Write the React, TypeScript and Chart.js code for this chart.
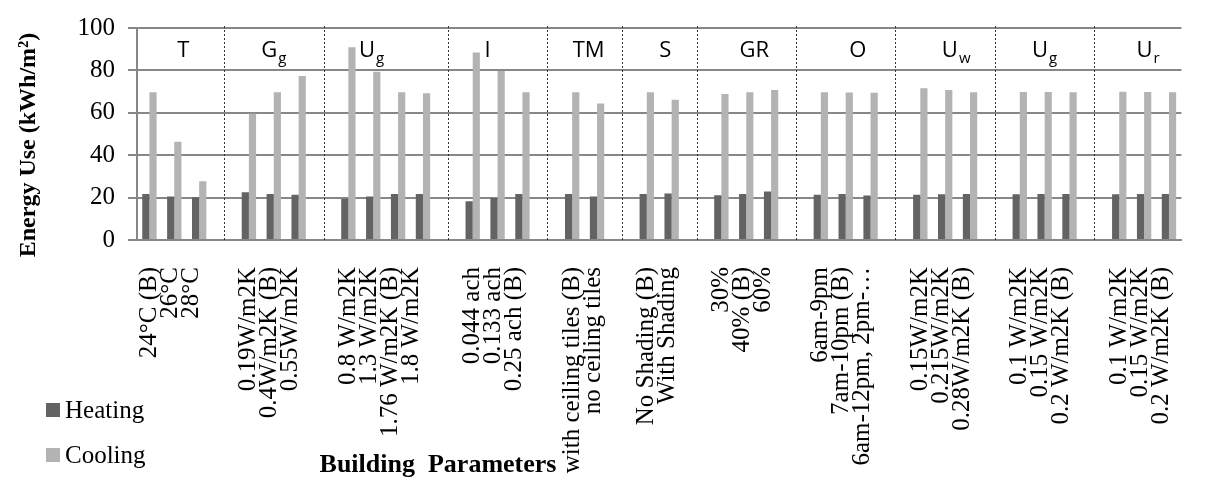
import React, { useEffect, useRef } from 'react';
import { Chart, registerables } from 'chart.js';

Chart.register(...registerables);

// ---- data ----
const groupMain = ['T', 'G', 'U', 'I', 'TM', 'S', 'GR', 'O', 'U', 'U', 'U'];
const groupSub = ['', 'g', 'g', '', '', '', '', '', 'w', 'g', 'r'];
const groupOptions: string[][] = [
  ['24°C (B)', '26°C', '28°C'],
  ['0.19W/m2K', '0.4W/m2K (B)', '0.55W/m2K'],
  ['0.8 W/m2K', '1.3 W/m2K', '1.76 W/m2K (B)', '1.8 W/m2K'],
  ['0.044 ach', '0.133 ach', '0.25 ach (B)'],
  ['with ceiling tiles (B)', 'no ceiling tiles'],
  ['No Shading (B)', 'With Shading'],
  ['30%', '40% (B)', '60%'],
  ['6am-9pm', '7am-10pm (B)', '6am-12pm, 2pm-…'],
  ['0.15W/m2K', '0.215W/m2K', '0.28W/m2K (B)'],
  ['0.1 W/m2K', '0.15 W/m2K', '0.2 W/m2K (B)'],
  ['0.1 W/m2K', '0.15 W/m2K', '0.2 W/m2K (B)'],
];
const heatingValues: number[][] = [
  [21.7, 20.5, 20.2],
  [22.5, 21.7, 21.4],
  [19.5, 20.5, 21.7, 21.7],
  [18.3, 19.8, 21.7],
  [21.7, 20.5],
  [21.7, 21.9],
  [21.1, 21.7, 22.9],
  [21.3, 21.7, 21.0],
  [21.3, 21.6, 21.7],
  [21.6, 21.7, 21.7],
  [21.6, 21.7, 21.7],
];
const coolingValues: number[][] = [
  [69.7, 46.4, 27.7],
  [59.6, 69.7, 77.3],
  [90.9, 79.4, 69.7, 69.2],
  [88.4, 79.7, 69.7],
  [69.7, 64.4],
  [69.7, 66.2],
  [68.9, 69.7, 70.7],
  [69.7, 69.6, 69.4],
  [71.6, 70.7, 69.7],
  [69.8, 69.8, 69.7],
  [69.9, 69.8, 69.7],
];
const seriesNames = ['Heating', 'Cooling'];
const yMin = 0;
const yMax = 100;
const yStep = 20;
const headerValue = 90;
const yTitle = 'Energy Use (kWh/m²)';
const xTitle = 'Building  Parameters';

// ---- styles ----
const HEAT_COLOR = '#636363';
const COOL_COLOR = '#b3b3b3';
const GRID_COLOR = '#878787';
const SERIF = '"Liberation Serif", "Times New Roman", serif';
const SANS = '"Open Sans", "Liberation Sans", sans-serif';
// small horizontal nudges (px) of the header labels, as placed in the original
const HEADER_NUDGE = [9, 0, -14, -10, 4, 6, 8, 12, 11, 0, 4];

// build the category table (blank spacer category between groups)
const labels: string[] = [];
const heatData: (number | null)[] = [];
const coolData: (number | null)[] = [];
const groupRanges: [number, number][] = [];
const spacerIdx: number[] = [];
const firstIdxToGroup: Record<number, number> = {};
groupOptions.forEach((opts, g) => {
  if (g > 0) {
    spacerIdx.push(labels.length);
    labels.push('');
    heatData.push(null);
    coolData.push(null);
  }
  const start = labels.length;
  firstIdxToGroup[start] = g;
  opts.forEach((o, i) => {
    labels.push(o);
    heatData.push(heatingValues[g][i]);
    coolData.push(coolingValues[g][i]);
  });
  groupRanges.push([start, labels.length - 1]);
});

const decorPlugin = {
  id: 'decor',
  beforeDatasetsDraw(chart: any) {
    const { ctx, chartArea, scales } = chart;
    const xs = scales.x;
    ctx.save();
    ctx.strokeStyle = '#333';
    ctx.lineWidth = 1;
    ctx.setLineDash([2, 2]);
    spacerIdx.forEach((idx) => {
      const x = Math.round(xs.getPixelForValue(idx)) + 0.5;
      ctx.beginPath();
      ctx.moveTo(x, chartArea.top - 2);
      ctx.lineTo(x, chartArea.bottom);
      ctx.stroke();
    });
    ctx.restore();
  },
  afterDraw(chart: any) {
    const { ctx, scales } = chart;
    const xs = scales.x;
    const ys = scales.y;
    ctx.save();
    // header labels
    const yBase = ys.getPixelForValue(headerValue) + 8;
    groupRanges.forEach(([s, e], g) => {
      const cx = (xs.getPixelForValue(s) + xs.getPixelForValue(e)) / 2 + HEADER_NUDGE[g];
      ctx.font = `22px ${SANS}`;
      const wMain = ctx.measureText(groupMain[g]).width;
      ctx.font = `15px ${SANS}`;
      const wSub = groupSub[g] ? ctx.measureText(groupSub[g]).width + 1 : 0;
      const x0 = cx - (wMain + wSub) / 2;
      ctx.fillStyle = '#000';
      ctx.textAlign = 'left';
      ctx.textBaseline = 'alphabetic';
      ctx.font = `22px ${SANS}`;
      ctx.fillText(groupMain[g], x0, yBase);
      if (groupSub[g]) {
        ctx.font = `15px ${SANS}`;
        ctx.fillText(groupSub[g], x0 + wMain + 1, yBase + 6);
      }
    });
    // y title
    ctx.save();
    ctx.translate(29, 145);
    ctx.rotate(-Math.PI / 2);
    ctx.font = `bold 24px ${SERIF}`;
    ctx.textAlign = 'center';
    ctx.textBaseline = 'middle';
    ctx.fillStyle = '#000';
    ctx.fillText(yTitle, 0, 0);
    ctx.restore();
    // x title
    ctx.font = `bold 26px ${SERIF}`;
    ctx.textAlign = 'center';
    ctx.textBaseline = 'alphabetic';
    ctx.fillStyle = '#000';
    ctx.fillText(xTitle, 438, 472);
    // legend
    const legendColors = [HEAT_COLOR, COOL_COLOR];
    const rowsY = [410, 455];
    seriesNames.forEach((name, i) => {
      ctx.fillStyle = legendColors[i];
      ctx.fillRect(46, rowsY[i] - 7, 14, 14);
      ctx.fillStyle = '#000';
      ctx.font = `25px ${SERIF}`;
      ctx.textAlign = 'left';
      ctx.textBaseline = 'middle';
      ctx.fillText(name, 65, rowsY[i] + 1);
    });
    ctx.restore();
  },
};

export default function App() {
  const canvasRef = useRef<HTMLCanvasElement | null>(null);

  useEffect(() => {
    if (!canvasRef.current) return;
    const chart = new Chart(canvasRef.current, {
      type: 'bar',
      data: {
        labels,
        datasets: [
          {
            label: seriesNames[0],
            data: heatData,
            backgroundColor: HEAT_COLOR,
            borderWidth: 0,
            categoryPercentage: 0.577,
            barPercentage: 1,
          },
          {
            label: seriesNames[1],
            data: coolData,
            backgroundColor: COOL_COLOR,
            borderWidth: 0,
            categoryPercentage: 0.577,
            barPercentage: 1,
          },
        ],
      },
      options: {
        animation: false,
        responsive: true,
        maintainAspectRatio: false,
        devicePixelRatio: 1,
        layout: { padding: { top: 17, right: 2, left: 0, bottom: 0 } },
        plugins: {
          legend: { display: false },
          tooltip: { enabled: false },
        },
        scales: {
          x: {
            type: 'category',
            grid: { display: false },
            border: { display: true, color: GRID_COLOR, width: 2 },
            ticks: {
              autoSkip: false,
              maxRotation: 90,
              minRotation: 90,
              padding: 19,
              color: '#000',
              font: { family: SERIF, size: 25, lineHeight: '21px' as any },
              callback: (_v: any, idx: number) => {
                const g = firstIdxToGroup[idx];
                return g === undefined ? '' : groupOptions[g];
              },
            },
            afterFit: (scale: any) => {
              scale.height = 242;
            },
          },
          y: {
            min: yMin,
            max: yMax,
            grid: { color: GRID_COLOR, lineWidth: 2, tickLength: 9, drawTicks: true },
            border: { display: true, color: GRID_COLOR, width: 2 },
            ticks: {
              stepSize: yStep,
              padding: 13,
              color: '#000',
              font: { family: SERIF, size: 25 },
            },
            afterFit: (scale: any) => {
              scale.width = 137;
            },
          },
        },
      },
      plugins: [decorPlugin],
    });
    return () => chart.destroy();
  }, []);

  return (
    <div style={{ position: 'absolute', left: 0, top: 0, width: 1209, height: 482, background: '#fff' }}>
      <canvas ref={canvasRef} />
    </div>
  );
}
